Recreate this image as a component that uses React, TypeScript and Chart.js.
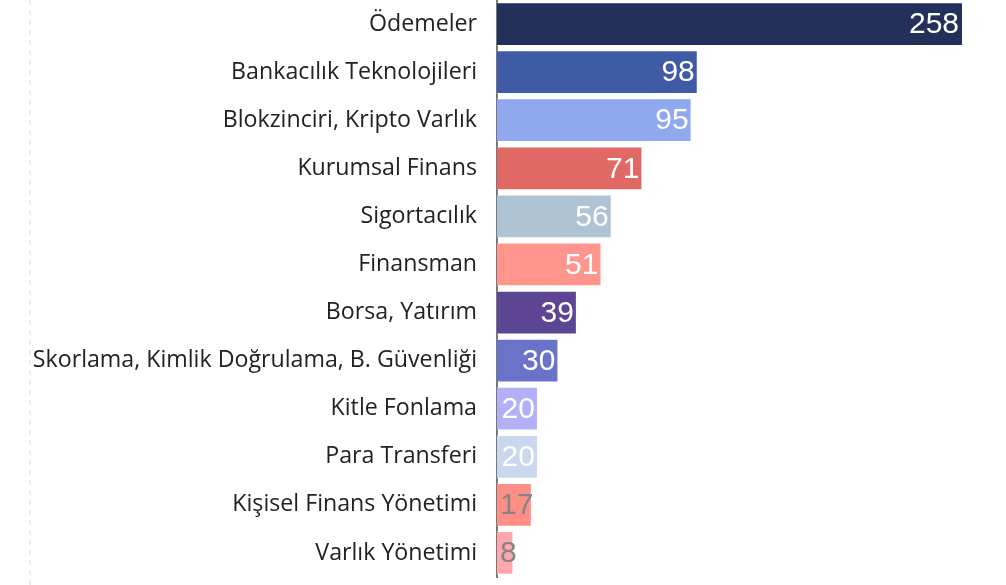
import React, { useEffect, useRef } from "react";
import { Chart, registerables } from "chart.js";

Chart.register(...registerables);

const categories = [
  "Ödemeler",
  "Bankacılık Teknolojileri",
  "Blokzinciri, Kripto Varlık",
  "Kurumsal Finans",
  "Sigortacılık",
  "Finansman",
  "Borsa, Yatırım",
  "Skorlama, Kimlik Doğrulama, B. Güvenliği",
  "Kitle Fonlama",
  "Para Transferi",
  "Kişisel Finans Yönetimi",
  "Varlık Yönetimi",
];

const values = [258, 98, 95, 71, 56, 51, 39, 30, 20, 20, 17, 8];

const barColors = [
  "#22305A",
  "#3F5BA6",
  "#8FA8EE",
  "#E06865",
  "#AEC4D4",
  "#FF958D",
  "#5C4694",
  "#6B73C8",
  "#B3B0F8",
  "#C9D7EF",
  "#FF8E86",
  "#FFA7AD",
];

const labelColors = [
  "#ffffff", "#ffffff", "#ffffff", "#ffffff", "#ffffff", "#ffffff",
  "#ffffff", "#ffffff", "#ffffff", "#ffffff", "#858585", "#858585",
];

const axisMax = 227;

const valueLabelPlugin = {
  id: "valueLabels",
  afterDatasetsDraw(chart: any) {
    const { ctx, chartArea } = chart;
    const meta = chart.getDatasetMeta(0);
    ctx.save();
    ctx.font = "30px 'Liberation Sans', Arial, sans-serif";
    ctx.textAlign = "right";
    ctx.textBaseline = "middle";
    meta.data.forEach((bar: any, i: number) => {
      const text = String(values[i]);
      const w = ctx.measureText(text).width;
      const end = Math.min(bar.x, chartArea.right);
      const x = Math.max(end - 3, bar.base + 3 + w);
      ctx.fillStyle = labelColors[i];
      ctx.fillText(text, x, bar.y + 1);
    });
    ctx.restore();
  },
};

const leftDashPlugin = {
  id: "leftDash",
  beforeDraw(chart: any) {
    const { ctx } = chart;
    const x = chart.scales.y.left + 1;
    ctx.save();
    ctx.strokeStyle = "#ececec";
    ctx.lineWidth = 2;
    ctx.setLineDash([5, 5]);
    ctx.beginPath();
    ctx.moveTo(x, 0);
    ctx.lineTo(x, chart.height);
    ctx.stroke();
    ctx.restore();
  },
};

export default function App() {
  const ref = useRef<HTMLCanvasElement | null>(null);

  useEffect(() => {
    if (!ref.current) return;
    const chart = new Chart(ref.current, {
      type: "bar",
      data: {
        labels: categories,
        datasets: [
          {
            data: values,
            backgroundColor: barColors,
            borderColor: "rgba(255,255,255,0.45)",
            borderWidth: 1,
            barPercentage: 0.91,
            categoryPercentage: 1,
            clip: 0,
          },
        ],
      },
      options: {
        indexAxis: "y",
        animation: false,
        responsive: true,
        maintainAspectRatio: false,
        layout: { padding: { left: 29, right: 44, top: 0, bottom: 8 } },
        plugins: {
          legend: { display: false },
          tooltip: { enabled: false },
        },
        scales: {
          x: {
            display: false,
            min: 0,
            max: axisMax,
          },
          y: {
            afterFit(scale: any) {
              scale.width = 468;
              scale.paddingTop = 0;
              scale.paddingBottom = 0;
            },
            grid: { display: false, drawTicks: false },
            border: { display: true, color: "#777777", width: 2 },
            ticks: {
              padding: 20,
              color: "#222222",
              font: { family: "'Open Sans', sans-serif", size: 23.2 },
            },
          },
        },
      },
      plugins: [valueLabelPlugin, leftDashPlugin],
    });
    return () => chart.destroy();
  }, []);

  return (
    <div style={{ position: "absolute", left: 0, top: 0, width: 1006, height: 585, background: "#fff" }}>
      <canvas ref={ref} />
    </div>
  );
}
